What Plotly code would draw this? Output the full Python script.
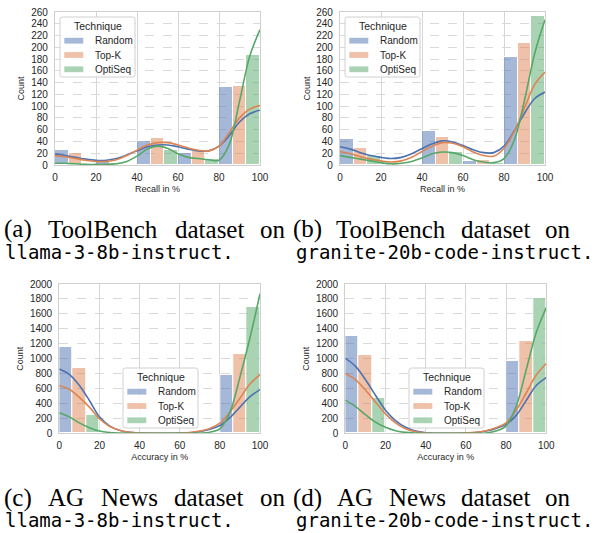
import plotly.graph_objects as go

# ---------------- data ----------------
techniques = ["Random", "Top-K", "OptiSeq"]
bin_centers = [10, 30, 50, 70, 90]          # histogram bins of width 20 (0-100 %)
kde_x = [0, 5, 10, 15, 20, 25, 30, 35, 40, 45, 50, 55, 60, 65, 70, 75, 80, 85, 90, 95, 100]
x_ticks = [0, 20, 40, 60, 80, 100]
y_ticks_toolbench = list(range(0, 261, 20))
y_ticks_agnews = list(range(0, 2001, 200))

# (a) ToolBench / llama-3-8b-instruct
a_random_counts = [25, 5, 40, 21, 133]
a_topk_counts = [20, 4, 46, 23, 134]
a_optiseq_counts = [2, 1, 26, 10, 187]
a_random_kde = [19, 16, 13, 10, 8, 8, 11, 17, 24, 31, 34, 34, 31, 27, 24, 24, 32, 50, 73, 87, 93]
a_topk_kde = [16, 14, 11, 8, 6, 6, 9, 16, 25, 34, 38, 38, 34, 29, 25, 24, 32, 55, 80, 95, 101]
a_optiseq_kde = [3, 3, 2, 1, 1, 1, 2, 6, 15, 27, 32, 28, 19, 13, 11, 9, 8, 35, 108, 185, 230]

# (b) ToolBench / granite-20b-code-instruct
b_random_counts = [44, 4, 58, 6, 184]
b_topk_counts = [29, 2, 48, 9, 208]
b_optiseq_counts = [16, 1, 22, 4, 254]
b_random_kde = [31, 27, 21, 16, 13, 11, 13, 19, 28, 36, 41, 39, 33, 26, 21, 21, 32, 58, 88, 113, 124]
b_topk_kde = [23, 19, 14, 10, 7, 5, 7, 13, 23, 32, 38, 37, 31, 22, 16, 15, 28, 57, 97, 137, 158]
b_optiseq_kde = [16, 13, 10, 7, 4, 2, 3, 6, 12, 19, 22, 21, 16, 9, 5, 4, 11, 42, 110, 190, 247]

# (c) AG News / llama-3-8b-instruct
c_random_counts = [1152, 0, 0, 0, 781]
c_topk_counts = [875, 0, 0, 0, 1067]
c_optiseq_counts = [241, 0, 0, 0, 1696]
c_random_kde = [862, 790, 640, 440, 220, 100, 40, 12, 3, 0, 0, 0, 2, 8, 25, 55, 105, 210, 350, 490, 585]
c_topk_kde = [640, 590, 480, 350, 195, 95, 40, 12, 3, 0, 0, 0, 3, 10, 30, 65, 135, 285, 470, 660, 785]
c_optiseq_kde = [276, 220, 140, 75, 30, 10, 2, 0, 0, 0, 0, 0, 0, 0, 3, 15, 60, 280, 750, 1280, 1870]

# (d) AG News / granite-20b-code-instruct
d_random_counts = [1308, 0, 0, 0, 973]
d_topk_counts = [1049, 0, 0, 0, 1237]
d_optiseq_counts = [473, 0, 0, 0, 1808]
d_random_kde = [1004, 900, 720, 510, 310, 170, 80, 30, 8, 1, 0, 1, 3, 10, 30, 65, 120, 240, 440, 640, 745]
d_topk_kde = [800, 720, 580, 420, 260, 140, 60, 20, 5, 1, 0, 1, 3, 12, 35, 75, 140, 310, 540, 780, 935]
d_optiseq_kde = [445, 360, 250, 150, 80, 35, 12, 3, 0, 0, 0, 0, 0, 1, 5, 30, 100, 360, 850, 1350, 1685]

legend_title = "Technique"
y_title = "Count"

# ---------------- style ----------------
W, H = 594, 533
bar_fill = ["rgba(76,114,176,0.5)", "rgba(221,132,82,0.5)", "rgba(85,168,104,0.5)"]
line_colors = ["#4C72B0", "#DD8452", "#55A868"]
SANS = "Liberation Sans, Arial, sans-serif"
TXT = "#262626"


def px_x(p):
    return p / W


def px_y(p):
    return 1 - p / H


panels = [
    dict(counts=[a_random_counts, a_topk_counts, a_optiseq_counts],
         kde=[a_random_kde, a_topk_kde, a_optiseq_kde],
         xtitle="Recall in %", yticks=y_ticks_toolbench, yrange=[0, 260],
         xdom=[55, 260], ydom=[12, 165], leg=(60, 17), ytitle_x=20),
    dict(counts=[b_random_counts, b_topk_counts, b_optiseq_counts],
         kde=[b_random_kde, b_topk_kde, b_optiseq_kde],
         xtitle="Recall in %", yticks=y_ticks_toolbench, yrange=[0, 260],
         xdom=[340, 545], ydom=[12, 165], leg=(345, 17), ytitle_x=306),
    dict(counts=[c_random_counts, c_topk_counts, c_optiseq_counts],
         kde=[c_random_kde, c_topk_kde, c_optiseq_kde],
         xtitle="Accuracy in %", yticks=y_ticks_agnews, yrange=[0, 2000],
         xdom=[59.3, 260], ydom=[284, 433.3], leg=(123, 368), ytitle_x=20),
    dict(counts=[d_random_counts, d_topk_counts, d_optiseq_counts],
         kde=[d_random_kde, d_topk_kde, d_optiseq_kde],
         xtitle="Accuracy in %", yticks=y_ticks_agnews, yrange=[0, 2000],
         xdom=[345.3, 546.3], ydom=[284, 433.3], leg=(409, 368), ytitle_x=306),
]

fig = go.Figure()
layout = {}
annotations = []
shapes = []

LEG_W, LEG_H, R = 75, 60, 2.5


def rounded_box(l, t, w, h, r):
    x0, x1 = px_x(l), px_x(l + w)
    y0, y1 = px_y(t), px_y(t + h)
    rx, ry = r / W, r / H
    return (f"M{x0 + rx},{y0} L{x1 - rx},{y0} Q{x1},{y0} {x1},{y0 - ry} "
            f"L{x1},{y1 + ry} Q{x1},{y1} {x1 - rx},{y1} L{x0 + rx},{y1} "
            f"Q{x0},{y1} {x0},{y1 + ry} L{x0},{y0 - ry} Q{x0},{y0} {x0 + rx},{y0} Z")


for i, p in enumerate(panels):
    n = "" if i == 0 else str(i + 1)
    xa, ya = "x" + n, "y" + n
    for t, name in enumerate(techniques):
        fig.add_trace(go.Bar(
            x=bin_centers, y=p["counts"][t], name=name,
            marker=dict(color=bar_fill[t], line=dict(color="white", width=1)),
            xaxis=xa, yaxis=ya, showlegend=False))
    for t, name in enumerate(techniques):
        fig.add_trace(go.Scatter(
            x=kde_x, y=p["kde"][t], mode="lines", name=name,
            line=dict(color=line_colors[t], width=1.6, shape="spline", smoothing=1.0),
            xaxis=xa, yaxis=ya, showlegend=False, hoverinfo="skip"))

    layout["xaxis" + n] = dict(
        domain=[px_x(p["xdom"][0]), px_x(p["xdom"][1])], anchor=ya,
        range=[0, 100], tickvals=x_ticks, showgrid=True, gridcolor="#d6d6d6", gridwidth=1,
        zeroline=False, showline=True, linecolor="#cfcfcf", linewidth=1.2, mirror=True,
        ticks="", ticklabelstandoff=3, tickfont=dict(size=10, color=TXT, family=SANS),
        title=dict(text=p["xtitle"], font=dict(size=9, color=TXT, family=SANS), standoff=3),
        automargin=False)
    layout["yaxis" + n] = dict(
        domain=[px_y(p["ydom"][1]), px_y(p["ydom"][0])], anchor=xa,
        range=p["yrange"], tickvals=p["yticks"], showgrid=True, gridcolor="#d9d9d9",
        griddash="dash", gridwidth=1, zeroline=False, showline=True, linecolor="#cfcfcf",
        linewidth=1.2, mirror=True, ticks="", ticklabelstandoff=4,
        tickfont=dict(size=10, color=TXT, family=SANS), automargin=False)

    # y-axis title
    annotations.append(dict(
        text=y_title, textangle=-90, x=px_x(p["ytitle_x"]),
        y=px_y((p["ydom"][0] + p["ydom"][1]) / 2), xref="paper", yref="paper",
        xanchor="center", yanchor="middle", showarrow=False,
        font=dict(size=9, color=TXT, family=SANS)))

    # legend (matplotlib-style box with patches)
    L, T = p["leg"]
    shapes.append(dict(type="path", path=rounded_box(L, T, LEG_W, LEG_H, R), xref="paper",
                       yref="paper", fillcolor="rgba(255,255,255,0.85)",
                       line=dict(color="#d0d0d0", width=1), layer="above"))
    annotations.append(dict(text=legend_title, x=px_x(L + LEG_W / 2), y=px_y(T + 9),
                            xref="paper", yref="paper", xanchor="center", yanchor="middle",
                            showarrow=False, font=dict(size=10.5, color=TXT, family=SANS)))
    for t, name in enumerate(techniques):
        cy = T + 23.7 + 14.3 * t
        shapes.append(dict(type="rect", xref="paper", yref="paper",
                           x0=px_x(L + 4.3), x1=px_x(L + 23.3),
                           y0=px_y(cy - 2.9), y1=px_y(cy + 2.9),
                           fillcolor=bar_fill[t], line=dict(width=0), layer="above"))
        annotations.append(dict(text=name, x=px_x(L + 32.5), y=px_y(cy), xref="paper",
                                yref="paper", xanchor="left", yanchor="middle",
                                showarrow=False, font=dict(size=10, color=TXT, family=SANS)))

# ---------------- captions ----------------
SERIF = "Liberation Serif, Times New Roman, serif"
MONO = "DejaVu Sans Mono, monospace"
caption_row1_words = [
    ("(a)", 2), ("ToolBench", 45.7), ("dataset", 172.5), ("on", 257.5),
    ("(b)", 291), ("ToolBench", 334.3), ("dataset", 459.4), ("on", 543),
]
caption_row3_words = [
    ("(c)", 2), ("AG", 46.2), ("News", 98.7), ("dataset", 172), ("on", 257.5),
    ("(d)", 291), ("AG", 335.3), ("News", 386.5), ("dataset", 458.5), ("on", 543),
]
caption_mono = [
    ("llama-3-8b-instruct.", 3, 252), ("granite-20b-code-instruct.", 294, 252),
    ("llama-3-8b-instruct.", 3, 520), ("granite-20b-code-instruct.", 294, 520),
]
for word, xp in caption_row1_words:
    annotations.append(dict(text=word, x=px_x(xp), y=px_y(229), xref="paper", yref="paper",
                            xanchor="left", yanchor="middle", showarrow=False,
                            font=dict(family=SERIF, size=25, color="black")))
for word, xp in caption_row3_words:
    annotations.append(dict(text=word, x=px_x(xp), y=px_y(497.5), xref="paper", yref="paper",
                            xanchor="left", yanchor="middle", showarrow=False,
                            font=dict(family=SERIF, size=25, color="black")))
for word, xp, yp in caption_mono:
    annotations.append(dict(text=word, x=px_x(xp), y=px_y(yp), xref="paper", yref="paper",
                            xanchor="left", yanchor="middle", showarrow=False,
                            font=dict(family=MONO, size=19, color="black")))

fig.update_layout(
    width=W, height=H, margin=dict(l=0, r=0, t=0, b=0),
    template="none", paper_bgcolor="white", plot_bgcolor="white",
    barmode="group", bargap=0, bargroupgap=0, showlegend=False,
    font=dict(family=SANS, color=TXT),
    annotations=annotations, shapes=shapes, **layout)

fig.write_html("out.html", config={"displayModeBar": False},
               post_script="document.body.style.margin='0px';")
